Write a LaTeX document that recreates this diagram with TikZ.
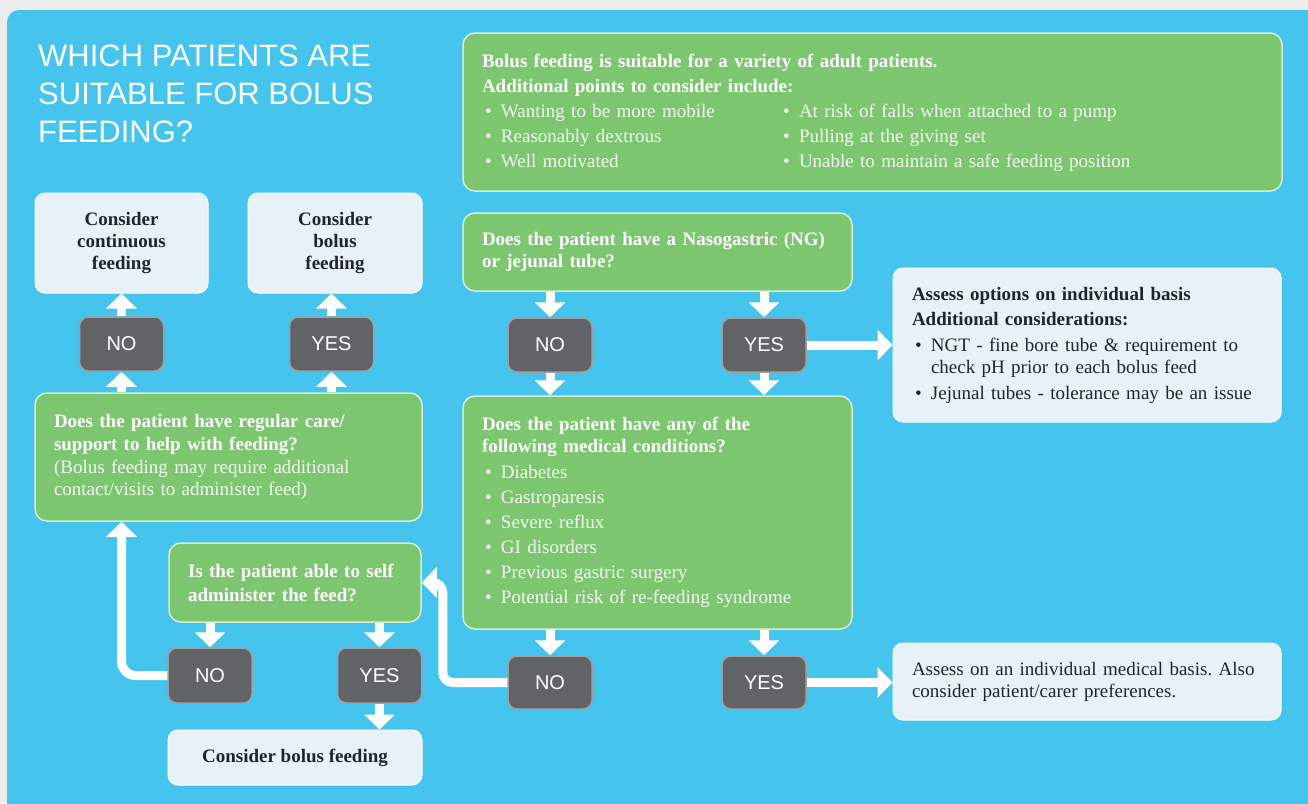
\documentclass[tikz,border=0pt]{standalone}
\usepackage{fontspec}
\setmainfont{Liberation Serif}
\setsansfont{Liberation Sans}
\usetikzlibrary{arrows.meta, calc, positioning}
\frenchspacing

\definecolor{skyBg}{HTML}{45C5EE}
\definecolor{pageBg}{HTML}{ECECEE}
\definecolor{leafGreen}{HTML}{7CC670}
\definecolor{chipGrey}{HTML}{616366}
\definecolor{paleBox}{HTML}{E7F1F8}
\definecolor{inkDark}{HTML}{1F2530}

\newcommand{\bul}{\hspace*{3pt}\makebox[16pt][l]{\textbullet}}
\newcommand{\soft}[1]{\textcolor{white!90!leafGreen}{#1}}

\begin{document}
\begin{tikzpicture}[x=1pt, y=-1pt,
    bodyfont/.style={font=\fontsize{19}{22}\selectfont},
    greenbox/.style={draw=white!70!leafGreen, line width=1.5pt, fill=leafGreen,
        rounded corners=12pt, text=white, align=left, inner xsep=19pt, bodyfont},
    palebox/.style={draw=white, line width=1pt, fill=paleBox,
        rounded corners=10pt, text=inkDark, inner xsep=19pt, bodyfont},
    chip/.style={draw=gray!75, line width=1.5pt, fill=chipGrey, rounded corners=9pt,
        text=white, font=\sffamily\fontsize{20}{24}\selectfont,
        minimum width=84pt, minimum height=54pt},
    flow/.style={draw=white, line width=9pt, -{Triangle[width=30pt, length=15pt]}},
    ]
    \useasboundingbox (0,0) rectangle (1308,803);
    \clip (0,0) rectangle (1308,803);
    \fill[pageBg] (0,0) rectangle (1308,803);
    \fill[skyBg, rounded corners=12pt] (7,10) rectangle (1340,840);

    % title
    \node[anchor=north west, inner sep=0pt, align=left, text=white,
        font=\sffamily\fontsize{31}{38}\selectfont] (title) at (38,45)
        {WHICH PATIENTS ARE\\SUITABLE FOR BOLUS\\FEEDING?};

    % intro box
    \node[greenbox, text width=781pt, minimum height=158pt] (intro) at (872.5,112) {%
        \fontsize{19}{25}\selectfont
        \begin{tabular}{@{}p{298pt}@{}l@{}}
            \multicolumn{2}{@{}l@{}}{\textbf{Bolus feeding is suitable for a variety of adult patients.}}\\
            \multicolumn{2}{@{}l@{}}{\textbf{Additional points to consider include:}}\\
            \soft{\bul Wanting to be more mobile} & \soft{\bul At risk of falls when attached to a pump}\\
            \soft{\bul Reasonably dextrous} & \soft{\bul Pulling at the giving set}\\
            \soft{\bul Well motivated} & \soft{\bul Unable to maintain a safe feeding position}
        \end{tabular}};

    % left column
    \node[palebox, minimum width=173pt, minimum height=100pt, align=center,
        font=\bfseries\fontsize{19}{22}\selectfont] (cont) at (121.5,243)
        {Consider\\continuous\\feeding};
    \node[palebox, minimum width=174pt, minimum height=100pt, align=center,
        font=\bfseries\fontsize{19}{22}\selectfont] (bolusA) at (335,243)
        {Consider\\bolus\\feeding};
    \node[chip] (noA) at (121.5,344) {NO};
    \node[chip] (yesA) at (331.5,344) {YES};
    \node[greenbox, text width=349pt, minimum height=128pt] (care) at (228.5,457)
        {\textbf{Does the patient have regular care/}\\[1pt]
         \textbf{support to help with feeding?}\\[1pt]
         \soft{(Bolus feeding may require additional}\\
         \soft{contact/visits to administer feed)}};
    \node[greenbox, text width=214pt, minimum height=79pt] (self) at (295,582.5)
        {\textbf{Is the patient able to self}\\[2pt]\textbf{administer the feed?}};
    \node[chip, minimum height=55pt] (noC) at (210,675.5) {NO};
    \node[chip, minimum height=55pt] (yesC) at (379.5,675.5) {YES};
    \node[palebox, minimum width=254pt, minimum height=55pt,
        font=\bfseries\fontsize{19}{22}\selectfont] (bolusB) at (295,757.5)
        {Consider bolus feeding};

    % middle column
    \node[greenbox, text width=351pt, minimum height=78pt] (ng) at (657.5,252)
        {\textbf{Does the patient have a Nasogastric (NG)}\\\textbf{or jejunal tube?}};
    \node[chip] (noB) at (550,345) {NO};
    \node[chip] (yesB) at (764,345) {YES};
    \node[greenbox, text width=351pt, minimum height=233pt] (cond) at (657.5,512.5)
        {\textbf{Does the patient have any of the}\\
         \textbf{following medical conditions?}\\[4pt]
         \soft{\bul Diabetes}\\[3pt]
         \soft{\bul Gastroparesis}\\[3pt]
         \soft{\bul Severe reflux}\\[3pt]
         \soft{\bul GI disorders}\\[3pt]
         \soft{\bul Previous gastric surgery}\\[3pt]
         \soft{\bul Potential risk of re-feeding syndrome}};
    \node[chip, minimum height=53pt] (noD) at (550,682.5) {NO};
    \node[chip, minimum height=53pt] (yesD) at (764,682.5) {YES};

    % right column
    \node[palebox, text width=350pt, minimum height=154pt, align=left] (opts) at (1087,345)
        {\textbf{Assess options on individual basis}\\[3pt]
         \textbf{Additional considerations:}\\[4pt]
         \bul NGT - fine bore tube \& requirement to\\
         \hspace*{19pt}check pH prior to each bolus feed\\[4pt]
         \bul Jejunal tubes - tolerance may be an issue};
    \node[palebox, text width=350pt, minimum height=77pt, align=left] (medbasis) at (1087,681.5)
        {Assess on an individual medical basis. Also\\consider patient/carer preferences.};

    % connectors
    \foreach \s/\t in {ng/noB, ng/yesB, cond/noD, cond/yesD, self/noC, self/yesC}
        \draw[flow] (\s.south -| \t) -- (\t.north);
    \foreach \s/\t in {noB/cond, yesB/cond, yesC/bolusB}
        \draw[flow] (\s.south) -- (\s |- \t.north);
    \foreach \s/\t in {care/noA, care/yesA}
        \draw[flow] (\s.north -| \t) -- (\t.south);
    \foreach \s/\t in {noA/cont, yesA/bolusA}
        \draw[flow] (\s.north) -- (\s |- \t.south);
    \foreach \s/\t in {yesB/opts, yesD/medbasis}
        \draw[flow] (\s.east) -- (\s -| \t.west);
    \draw[flow, rounded corners=14pt] (noC.west) -| (noA |- care.south);
    \draw[flow, rounded corners=10pt] (noD.west) -| ([xshift=21pt]self.east) -- (self.east);
\end{tikzpicture}
\end{document}
